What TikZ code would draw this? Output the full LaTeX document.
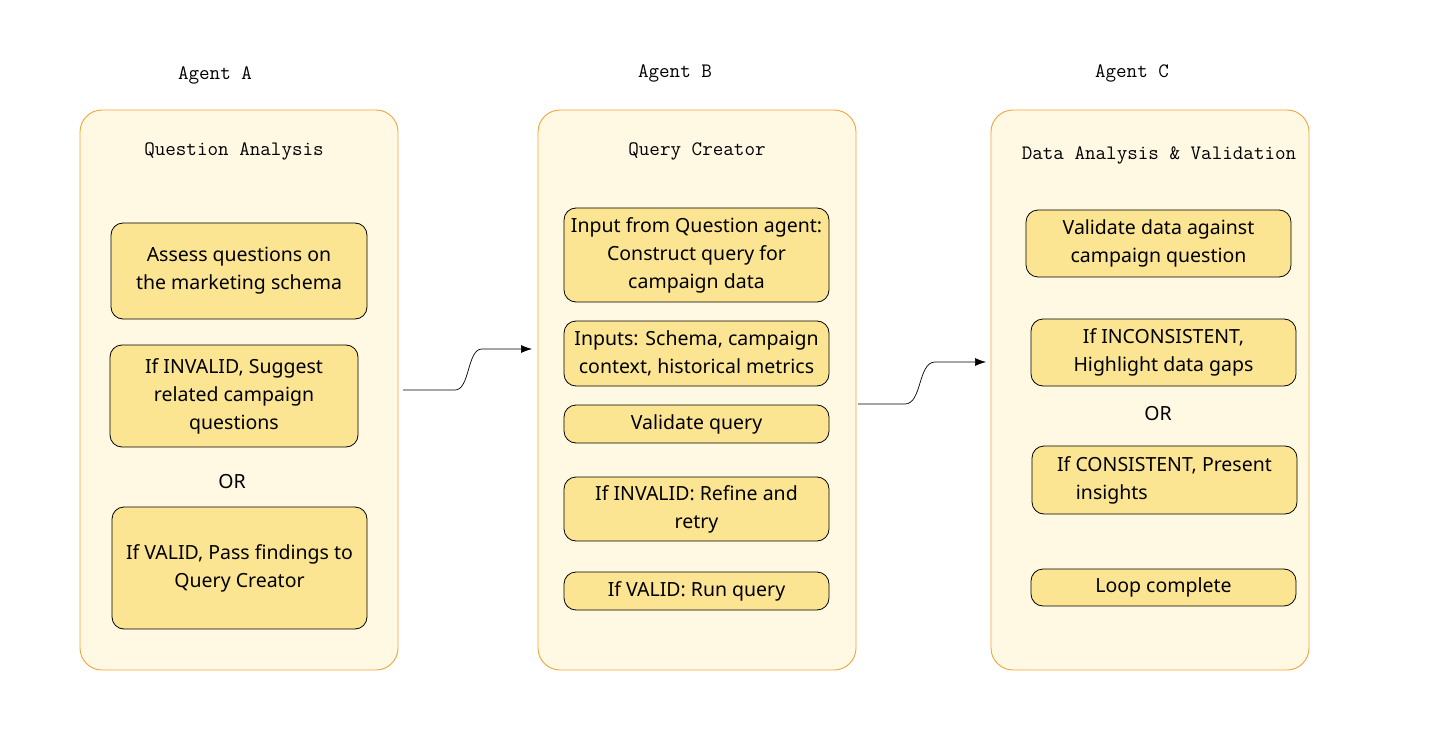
\documentclass[tikz,border=0pt]{standalone}
\usepackage{fontspec}
\setmainfont{Noto Sans}
\usetikzlibrary{arrows.meta}
\definecolor{pan}{HTML}{FFF9E3}
\definecolor{panb}{HTML}{F0A43A}
\definecolor{boxf}{HTML}{FCE592}
\begin{document}
\begin{tikzpicture}[x=1pt,y=-1pt,
 panel/.style={draw=panb,fill=pan,rounded corners=22pt,line width=0.9pt},
 box/.style={draw=black,fill=boxf,rounded corners=12pt,line width=0.8pt,align=center,font=\fontsize{19.5}{28}\selectfont},
 ttl/.style={font=\fontsize{20.5}{24}\selectfont\ttfamily},
 lbl/.style={font=\fontsize{19.5}{24}\selectfont},
 conn/.style={-{Latex[length=11pt,width=8pt]},line width=0.7pt}]
\useasboundingbox (0,0) rectangle (1456,746);
\fill[white] (0,0) rectangle (1456,746);
\draw[panel] (80,110) rectangle (398,670);
\draw[panel] (538,110) rectangle (856,670);
\draw[panel] (991,110) rectangle (1309,670);
\node[ttl] (ta) at (215,75) {Agent A};
\node[ttl] (tb) at (675,73) {Agent B};
\node[ttl] (tc) at (1132,73) {Agent C};
\node[ttl] (qa) at (234,151) {Question Analysis};
\node[ttl] (qc) at (697,151) {Query Creator};
\node[ttl] (da) at (1159,155) {Data Analysis \& Validation};
\newcommand{\bx}[6]{\node[box,minimum width=#4-#2,minimum height=#5-#3] (#1) at ({(#2+#4)/2},{(#3+#5)/2}) {#6};}
\bx{a1}{111}{223}{367}{319}{Assess questions on\\the marketing schema}
\bx{a2}{110}{345}{358}{447}{If INVALID, Suggest\\related campaign\\questions}
\node[lbl] (ora) at (232,482) {OR};
\bx{a3}{112}{507}{367}{629}{If VALID, Pass findings to\\Query Creator}
\bx{b1}{564}{208}{829}{302}{Input from Question agent:\\Construct query for\\campaign data}
\bx{b2}{564}{321}{829}{386}{Inputs: Schema, campaign\\context, historical metrics}
\bx{b3}{564}{405}{829}{443}{Validate query}
\bx{b4}{564}{477}{829}{541}{If INVALID: Refine and\\retry}
\bx{b5}{564}{572}{829}{610}{If VALID: Run query}
\bx{c1}{1026}{210}{1291}{277}{Validate data against\\campaign question}
\bx{c2}{1031}{319}{1296}{386}{If INCONSISTENT,\\Highlight data gaps}
\node[lbl] (orc) at (1158,414) {OR};
\bx{c3}{1032}{446}{1297}{514}{If CONSISTENT, Present\\insights\hspace*{5.4em}}
\bx{c4}{1031}{569}{1296}{606}{Loop complete}
\coordinate (s1) at (403,390); \coordinate (e1) at (532,349);
\coordinate (s2) at (858,404); \coordinate (e2) at (986,362);
\draw[conn] (s1) -- (455,390) .. controls (470,390) and (467,349) .. (482,349) -- (e1);
\draw[conn] (s2) -- (905,404) .. controls (922,404) and (918,362) .. (935,362) -- (e2);
\end{tikzpicture}
\end{document}
